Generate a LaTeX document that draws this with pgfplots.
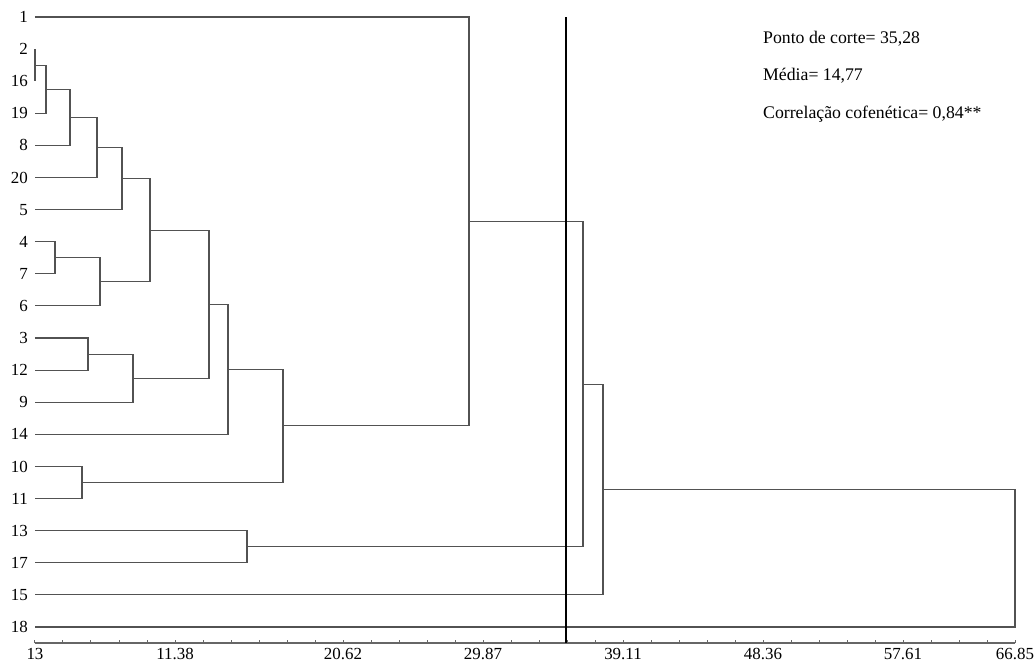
\documentclass[border=0pt]{standalone}
\usepackage{fontspec}
\setmainfont{Liberation Serif}
\usepackage{pgfplots}
\pgfplotsset{compat=1.18}
\tikzset{dl/.style={black!68, line width=1.1bp, mark=none}}
\begin{document}
\begin{tikzpicture}
\begin{axis}[
 scale only axis, width=980bp, height=626bp,
 xmin=35, xmax=1015, ymin=-0.5, ymax=19,
 clip=false,
 axis x line*=bottom, axis y line*=left,
 y axis line style={draw=none},
 x axis line style={draw=black!60, line width=1.5bp},
 xtick={35,175,343,483,623,763,903,1015},
 xticklabels={13,11.38,20.62,29.87,39.11,48.36,57.61,66.85},
 minor xtick={35,63,...,1015},
 tick align=inside,
 major tick length=3bp, minor tick length=3bp,
 xtick style={draw=black!60, line width=1bp},
 ytick={0,...,19},
 yticklabels={18,15,17,13,11,10,14,9,12,3,6,7,4,5,20,8,19,16,2,1},
 ytick style={draw=none},
 /pgf/number format/assume math mode=true,
 ticklabel style={font=\fontsize{17}{20}\selectfont, inner sep=0pt},
 xticklabel style={yshift=-5bp},
 yticklabel style={xshift=-7bp},
]
% dendrogram links (x = horizontal position, y = leaf row)
\addplot[dl] coordinates {(35,18) (35,17)};
\addplot[dl] coordinates {(35,17.5) (46,17.5) (46,16) (35,16)};
\addplot[dl] coordinates {(46,16.75) (70,16.75) (70,15) (35,15)};
\addplot[dl] coordinates {(70,15.875) (97,15.875) (97,14) (35,14)};
\addplot[dl] coordinates {(97,14.9375) (122,14.9375) (122,13) (35,13)};
\addplot[dl] coordinates {(35,12) (55,12) (55,11) (35,11)};
\addplot[dl] coordinates {(55,11.5) (100,11.5) (100,10) (35,10)};
\addplot[dl] coordinates {(122,13.96875) (150,13.96875) (150,10.75) (100,10.75)};
\addplot[dl] coordinates {(35,9) (88,9) (88,8) (35,8)};
\addplot[dl] coordinates {(88,8.5) (133,8.5) (133,7) (35,7)};
\addplot[dl] coordinates {(150,12.359) (209,12.359) (209,7.75) (133,7.75)};
\addplot[dl] coordinates {(209,10.055) (228,10.055) (228,6) (35,6)};
\addplot[dl] coordinates {(35,5) (82,5) (82,4) (35,4)};
\addplot[dl] coordinates {(228,8.027) (283,8.027) (283,4.5) (82,4.5)};
\addplot[dl] coordinates {(35,19) (469,19) (469,6.264) (283,6.264)};
\addplot[dl] coordinates {(35,3) (247,3) (247,2) (35,2)};
\addplot[dl] coordinates {(469,12.632) (583,12.632) (583,2.5) (247,2.5)};
\addplot[dl] coordinates {(583,7.566) (603,7.566) (603,1) (35,1)};
\addplot[dl] coordinates {(603,4.283) (1015,4.283) (1015,0) (35,0)};
% cut line
\addplot[black, line width=1.6bp, mark=none] coordinates {(565.7,19) (565.7,-0.5)};
\node[anchor=base west, inner sep=0pt, font=\fontsize{17.8}{21}\selectfont] at (axis cs:763,18.18) {Ponto de corte= 35,28};
\node[anchor=base west, inner sep=0pt, font=\fontsize{17.8}{21}\selectfont] at (axis cs:763,17.016) {Média= 14,77};
\node[anchor=base west, inner sep=0pt, font=\fontsize{17.8}{21}\selectfont] at (axis cs:763,15.84) {Correlação cofenética= 0,84**};
\coordinate (bbA) at (axis cs:0,-1.187);
\coordinate (bbB) at (axis cs:1035,19.53);
\end{axis}
\pgfresetboundingbox
\useasboundingbox (bbA) rectangle (bbB);
\end{tikzpicture}
\end{document}
